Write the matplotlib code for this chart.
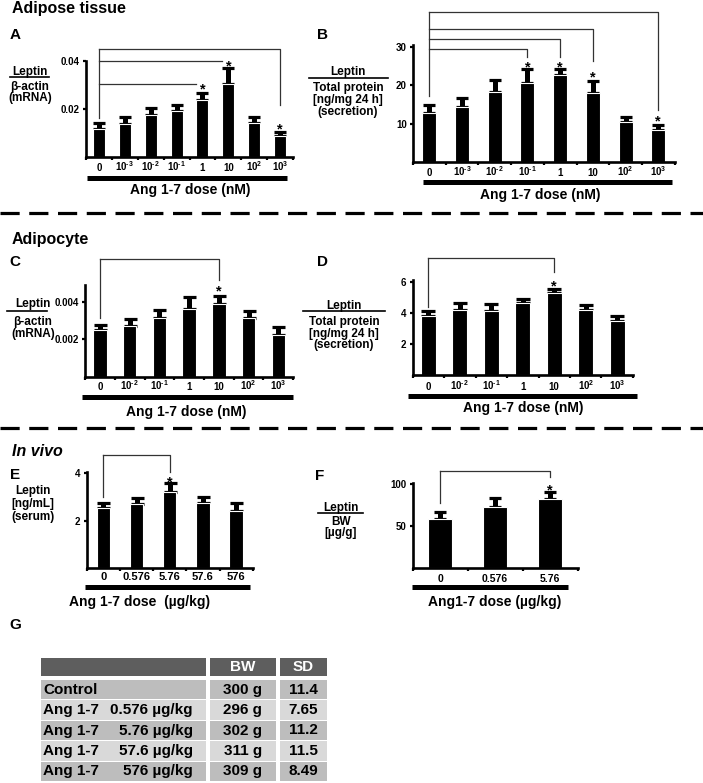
import numpy as np
import matplotlib
matplotlib.use("Agg")
import matplotlib.pyplot as plt
from matplotlib.lines import Line2D
from matplotlib.patches import Rectangle

plt.rcParams['font.family'] = ['Liberation Sans', 'DejaVu Sans']
plt.rcParams['font.weight'] = 'bold'
plt.rcParams['mathtext.fontset'] = 'custom'
plt.rcParams['mathtext.rm'] = 'Liberation Sans:bold'
plt.rcParams['mathtext.bf'] = 'Liberation Sans:bold'
plt.rcParams['mathtext.it'] = 'Liberation Sans:bold:italic'
plt.rcParams['mathtext.default'] = 'rm'

# ---------------- data ----------------
A_labels = ["0", r"10$^{\text{-3}}$", r"10$^{\text{-2}}$", r"10$^{\text{-1}}$", "1", "10",
            r"10$^{2}$", r"10$^{3}$"]
A_mean = [0.0117, 0.0138, 0.0175, 0.0192, 0.0238, 0.0303, 0.0143, 0.0087]
A_err = [0.0023, 0.0030, 0.0028, 0.0025, 0.0027, 0.0069, 0.0022, 0.0018]
A_yticks = [0.02, 0.04]
A_yticklabels = ["0.02", "0.04"]

B_labels = A_labels
B_mean = [12.7, 14.3, 18.2, 20.7, 22.7, 18.1, 10.3, 8.4]
B_err = [2.2, 2.3, 3.2, 3.6, 1.5, 2.9, 1.4, 1.2]
B_yticks = [10, 20, 30]

C_labels = ["0", r"10$^{\text{-2}}$", r"10$^{\text{-1}}$", "1", "10", r"10$^{2}$", r"10$^{3}$"]
C_mean = [0.00250, 0.00274, 0.00313, 0.00361, 0.00389, 0.00316, 0.00222]
C_err = [0.00027, 0.00035, 0.00045, 0.00067, 0.00043, 0.00038, 0.00043]
C_yticks = [0.002, 0.004]
C_yticklabels = ["0.002", "0.004"]

D_labels = C_labels
D_mean = [3.79, 4.18, 4.13, 4.65, 5.29, 4.18, 3.49]
D_err = [0.34, 0.43, 0.43, 0.25, 0.25, 0.32, 0.31]
D_yticks = [2, 4, 6]

E_labels = ["0", "0.576", "5.76", "57.6", "576"]
E_mean = [2.52, 2.70, 3.22, 2.76, 2.42]
E_err = [0.24, 0.27, 0.36, 0.25, 0.34]
E_yticks = [2, 4]

F_labels = ["0", "0.576", "5.76"]
F_mean = [58.0, 73.0, 81.8]
F_err = [9.0, 10.7, 8.7]
F_yticks = [50, 100]

G_rows = ["Control", "Ang 1-7", "Ang 1-7", "Ang 1-7", "Ang 1-7"]
G_doses = ["", "0.576 µg/kg", "5.76 µg/kg", "57.6 µg/kg", "576 µg/kg"]
G_bw = ["300 g", "296 g", "302 g", "311 g", "309 g"]
G_sd = ["11.4", "7.65", "11.2", "11.5", "8.49"]

# significance comparisons: (bar i, bar j, bracket level, right-drop end or None, star level)
A_sig = [(0, 7, 0.045, 0.0217, 0.0133), (0, 5, 0.040, None, 0.0396), (0, 4, 0.0303, None, 0.0300)]
A_left_end = 0.0163
B_sig = [(0, 7, 39.0, 13.6, 11.8), (0, 5, 34.7, 26.2, 23.2), (0, 4, 32.1, 27.5, 25.8), (0, 3, 29.4, 27.5, 25.8)]
B_left_end = 17.1
C_sig = [(0, 4, 0.00629, 0.00517, 0.00478)]
C_left_end = 0.00313
D_sig = [(0, 4, 7.49, 6.63, 5.99)]
D_left_end = 4.39
E_sig = [(0, 2, 4.77, 4.07, 3.79)]
E_left_end = 3.01
F_sig = [(0, 2, 115.5, 108.0, 96.8)]
F_left_end = 77.4

# ---------------- figure ----------------
W, H = 703, 783
fig = plt.figure(figsize=(W / 100, H / 100), dpi=100)
fig.patch.set_facecolor('white')


def fx(x):
    return x / W


def fy(y):
    return 1 - y / H


def ftext(x, y, s, **kw):
    kw.setdefault('ha', 'center')
    kw.setdefault('va', 'center')
    kw.setdefault('fontweight', 'bold')
    fig.text(fx(x), fy(y), s, **kw)


def ctext(x, yc, s, fs, **kw):
    # place text so that its cap-height centre sits at yc (pixels)
    ftext(x, yc + 0.36 * fs / 0.72, s, fontsize=fs, va='baseline', **kw)


def fline(x0, x1, y0, y1, **kw):
    fig.add_artist(Line2D([fx(x0), fx(x1)], [fy(y0), fy(y1)], transform=fig.transFigure, **kw))


def panel(left, right, base, top, ytop, labels, mean, err, yticks, yticklabels,
          bar_px, width, xpad, cap_px, tick_fs=7, xfs=7, sig=(), left_end=None):
    ax = fig.add_axes([fx(left), fy(base), (right - left) / W, (base - top) / H])
    n = len(mean)
    x = np.arange(n)
    ax.set_xlim(-0.5, n - 0.5)
    ax.set_ylim(0, ytop)
    cap_pt = cap_px * 0.72 / 2
    stem_pt = 5.0 * 0.72
    ax.errorbar(x, mean, yerr=[np.zeros(n), err], fmt='none', ecolor='black',
                elinewidth=stem_pt, capsize=cap_pt, capthick=2.3, zorder=2)
    ax.bar(x, mean, width=width, color='black', edgecolor='white', linewidth=0.8, zorder=3)
    for s in ['top', 'right']:
        ax.spines[s].set_visible(False)
    for s in ['left', 'bottom']:
        ax.spines[s].set_linewidth(1.9)
        ax.spines[s].set_zorder(4)
        ax.spines[s].set_capstyle('projecting')
    ax.set_yticks(yticks)
    ax.set_yticklabels(yticklabels if yticklabels is not None else [str(v) for v in yticks],
                       fontsize=tick_fs, fontweight='bold')
    ax.tick_params(axis='y', length=2.5, width=1.6, pad=2)
    ax.set_xticks(x)
    ax.set_xticklabels(labels, fontsize=xfs, fontweight='bold')
    ax.tick_params(axis='x', which='major', length=0, pad=xpad)
    for t in ax.get_xticklabels():
        t.set_verticalalignment('baseline')
    ax.set_xticks(np.arange(-0.5, n, 1.0), minor=True)
    ax.tick_params(axis='x', which='minor', length=2.5, width=1.6, direction='out')
    ax.patch.set_alpha(0)
    # significance brackets
    for (i, j, lev, rdrop, star) in sig:
        if rdrop is None:
            ax.plot([i, j - 0.25], [lev, lev], color='#333333', lw=0.9, clip_on=False, zorder=5)
        else:
            ax.plot([i, j, j], [lev, lev, rdrop], color='#333333', lw=0.9, clip_on=False, zorder=5)
        ax.annotate('*', xy=(j, star), xytext=(0, -0.57 * 10.5), textcoords='offset points',
                    ha='center', va='baseline', fontsize=10.5, fontweight='bold',
                    annotation_clip=False)
    if sig:
        top_lev = max(s[2] for s in sig)
        ax.plot([0, 0], [top_lev, left_end], color='#333333', lw=0.9, clip_on=False, zorder=5)
    return ax


panel(86, 293, 157, 60.5, 0.0402, A_labels, A_mean, A_err, A_yticks, A_yticklabels,
      12, 0.46, 10.4, 12, sig=A_sig, left_end=A_left_end)
panel(413, 674.6, 162, 45, 30.5, B_labels, B_mean, B_err, B_yticks, None,
      14, 0.43, 10.0, 12.5, sig=B_sig, left_end=B_left_end)
panel(85.1, 293.2, 377, 285, 0.0049, C_labels, C_mean, C_err, C_yticks, C_yticklabels,
      13.3, 0.45, 9.4, 13, sig=C_sig, left_end=C_left_end)
panel(412.5, 633, 375.2, 280, 6.1, D_labels, D_mean, D_err, D_yticks, None,
      15, 0.48, 10.6, 14, sig=D_sig, left_end=D_left_end)
panel(86.7, 252.7, 568, 471.7, 4.07, E_labels, E_mean, E_err, E_yticks, None,
      13.3, 0.40, 9.0, 13, xfs=8, sig=E_sig, left_end=E_left_end)
panel(412.5, 577.5, 568, 482.7, 101.5, F_labels, F_mean, F_err, F_yticks, None,
      25, 0.45, 10.0, 12.5, xfs=7.5, sig=F_sig, left_end=F_left_end)

# thick bars under x axes and x labels
fline(87, 287, 177.7, 177.7, color='black', lw=3.6, solid_capstyle='butt')
ftext(190, 190, "Ang 1-7 dose (nM)", fontsize=10)
fline(422.7, 671.7, 181.5, 181.5, color='black', lw=3.6, solid_capstyle='butt')
ftext(540, 195, "Ang 1-7 dose (nM)", fontsize=10)
fline(81.7, 293, 397.3, 397.3, color='black', lw=3.6, solid_capstyle='butt')
ftext(186.7, 411.7, "Ang 1-7 dose (nM)", fontsize=10)
fline(408.3, 636.7, 395.7, 395.7, color='black', lw=3.6, solid_capstyle='butt')
ftext(523.3, 408.3, "Ang 1-7 dose (nM)", fontsize=10)
fline(85, 250, 586.7, 586.7, color='black', lw=3.6, solid_capstyle='butt')
ftext(140, 601.7, "Ang 1-7 dose  (µg/kg)", fontsize=10)
fline(411.7, 568.3, 586.7, 586.7, color='black', lw=3.6, solid_capstyle='butt')
ftext(495, 601.7, "Ang1-7 dose (µg/kg)", fontsize=10)

# y-axis labels
ylfs = 8.5
ctext(30, 70.5, "Leptin", ylfs)
fline(10, 49.3, 77.3, 77.3, color='black', lw=1.2)
ctext(30, 85.5, "β-actin", ylfs)
ctext(30, 96.5, "(mRNA)", ylfs)

ctext(348, 71, "Leptin", ylfs)
fline(309, 388, 77.7, 77.7, color='black', lw=1.2)
ctext(348, 87, "Total protein", ylfs)
ctext(348, 98.7, "[ng/mg 24 h]", ylfs)
ctext(348, 110.3, "(secretion)", ylfs)

ctext(33, 302.5, "Leptin", ylfs)
fline(7, 47, 311.5, 311.5, color='black', lw=1.2)
ctext(33, 321, "β-actin", ylfs)
ctext(33, 332.5, "(mRNA)", ylfs)

ctext(344, 305, "Leptin", ylfs)
fline(303, 385, 311.5, 311.5, color='black', lw=1.2)
ctext(344, 321, "Total protein", ylfs)
ctext(344, 332.5, "[ng/mg 24 h]", ylfs)
ctext(344, 344, "(secretion)", ylfs)

ctext(33.3, 490, "Leptin", ylfs)
ctext(33.3, 503, "[ng/mL]", ylfs)
ctext(33.3, 516, "(serum)", ylfs)

ctext(340.7, 506.5, "Leptin", ylfs)
fline(318.3, 363.3, 513.3, 513.3, color='black', lw=1.2)
ctext(340.7, 520.5, "BW", ylfs)
ctext(340.7, 532, "[µg/g]", ylfs)

# section titles and panel letters
ftext(12, 8.5, "Adipose tissue", fontsize=11.5, ha='left')
ftext(12, 240, "Adipocyte", fontsize=11.5, ha='left')
ftext(12, 451.7, "In vivo", fontsize=11.5, ha='left', fontstyle='italic')
for lt, (px, py) in zip("ABCDEFG", [(15, 35), (322, 35), (15, 261.7), (322.7, 261.7),
                                      (15, 475), (320, 476), (15, 625)]):
    ftext(px, py, lt, fontsize=11)

# dashed separators
for yy in (213, 428):
    fline(0, 703, yy, yy, color='black', lw=2.3, dashes=(6, 3))

# table G
col_x = [(41, 206), (210, 276), (280, 327.3)]
hdr_col = '#5e5e5e'
row_cols = ['#bdbdbd', '#d9d9d9', '#bdbdbd', '#d9d9d9', '#bdbdbd']


def frect(x0, x1, y0, y1, color):
    fig.add_artist(Rectangle((fx(x0), fy(y1)), (x1 - x0) / W, (y1 - y0) / H,
                             transform=fig.transFigure, facecolor=color, edgecolor='none'))


for (c0, c1) in col_x:
    frect(c0, c1, 657.7, 675.7, hdr_col)
ftext(sum(col_x[1]) / 2, 667, "BW", fontsize=11, color='white')
ftext(sum(col_x[2]) / 2, 667, "SD", fontsize=11, color='white')
for k in range(len(G_rows)):
    y0 = 680 + k * 20.4
    y1 = y0 + 19.4
    for (c0, c1) in col_x:
        frect(c0, c1, y0, y1, row_cols[k])
    yc = (y0 + y1) / 2
    ftext(43.3, yc, G_rows[k], fontsize=11, ha='left')
    if G_doses[k]:
        ftext(192.7, yc, G_doses[k], fontsize=11, ha='right')
    ftext(242.7, yc, G_bw[k], fontsize=11)
    ftext(303.3, yc, G_sd[k], fontsize=11)

fig.savefig("out.png", dpi=100, facecolor='white')
